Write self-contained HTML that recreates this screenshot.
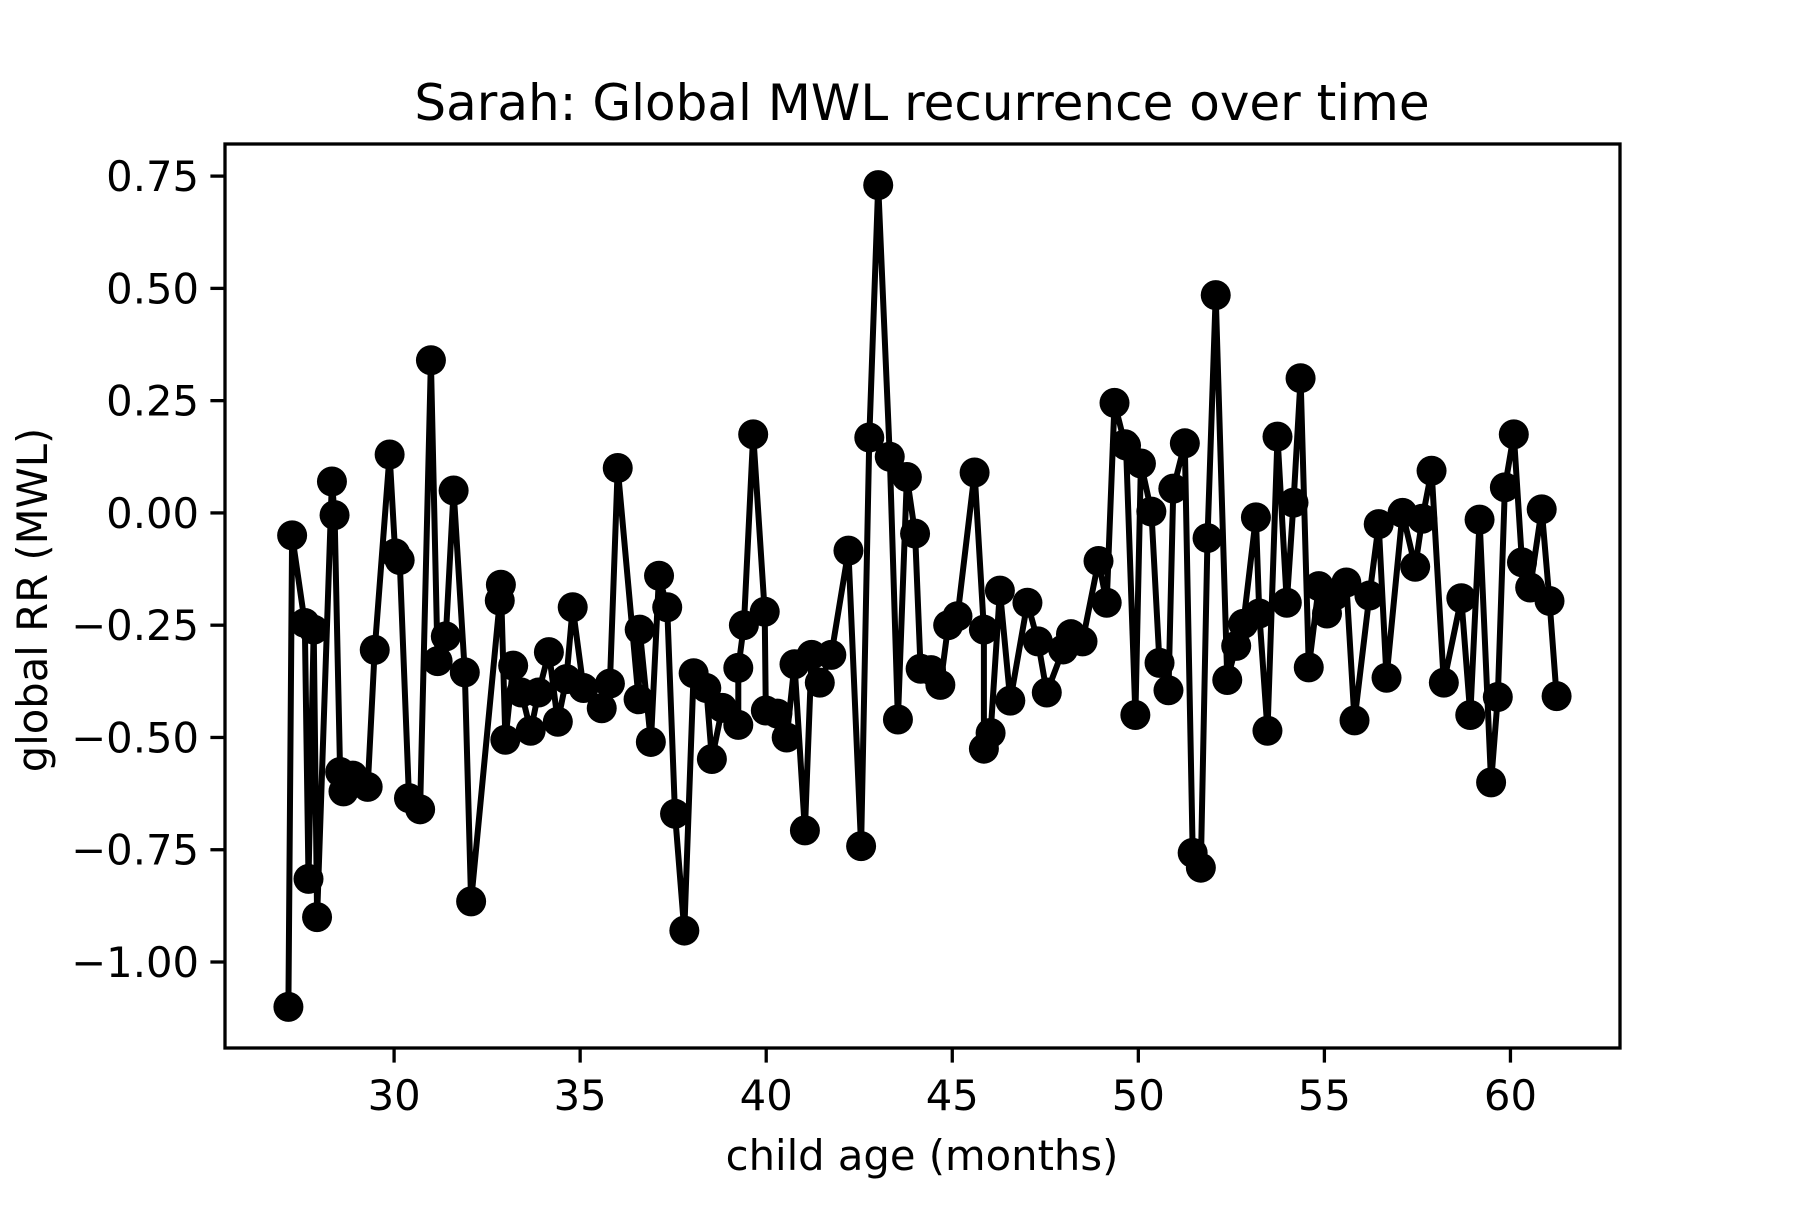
<!DOCTYPE html>
<html><head><meta charset="utf-8"><style>
html,body{margin:0;padding:0;background:#fff;}
svg text{font-family:"DejaVu Sans","Liberation Sans",sans-serif;fill:#000;}
</style></head><body>
<svg id="chart" width="1800" height="1200" viewBox="0 0 1800 1200" xmlns="http://www.w3.org/2000/svg">
<rect width="1800" height="1200" fill="#fff"/>
<text x="922" y="120" font-size="50" text-anchor="middle">Sarah: Global MWL recurrence over time</text>
<text x="922" y="1170" font-size="41.7" text-anchor="middle">child age (months)</text>
<text transform="translate(47,600) rotate(-90)" font-size="41.7" text-anchor="middle">global RR (MWL)</text>
<g id="xticks"></g>
<g id="yticks"></g>
<g id="series"></g>
<rect x="225" y="144" width="1395" height="904" fill="none" stroke="#000" stroke-width="3.3"/>
</svg>
<script>
const ages = [27.16,27.26,27.6,27.7,27.84,27.93,28.33,28.4,28.55,28.64,28.89,29.29,29.48,29.88,30.03,30.15,30.4,30.7,30.99,31.17,31.39,31.6,31.9,32.07,32.84,32.87,32.99,33.2,33.42,33.67,33.88,34.16,34.4,34.63,34.8,35.09,35.58,35.8,36.01,36.57,36.6,36.9,37.12,37.34,37.55,37.8,38.05,38.39,38.54,38.82,39.25,39.25,39.4,39.65,39.96,39.99,40.3,40.55,40.76,41.04,41.22,41.44,41.75,42.21,42.55,42.77,43.01,43.32,43.54,43.78,44.0,44.15,44.43,44.68,44.89,45.14,45.6,45.85,45.85,46.03,46.28,46.56,47.02,47.3,47.54,47.98,48.19,48.5,48.93,49.15,49.36,49.64,49.67,49.92,50.07,50.35,50.57,50.81,50.94,51.25,51.46,51.68,51.86,52.08,52.39,52.63,52.82,53.16,53.25,53.47,53.74,53.99,54.17,54.36,54.58,54.85,55.07,55.28,55.59,55.81,56.21,56.46,56.67,57.1,57.44,57.63,57.88,58.21,58.68,58.92,59.17,59.48,59.66,59.85,60.09,60.31,60.53,60.84,61.05,61.24];
const rrValues = [-1.10,-0.05,-0.245,-0.815,-0.26,-0.90,0.07,-0.005,-0.577,-0.62,-0.585,-0.61,-0.305,0.13,-0.09,-0.105,-0.635,-0.66,0.34,-0.33,-0.275,0.05,-0.355,-0.865,-0.195,-0.16,-0.505,-0.34,-0.40,-0.485,-0.40,-0.31,-0.465,-0.37,-0.21,-0.39,-0.435,-0.38,0.10,-0.415,-0.26,-0.51,-0.14,-0.21,-0.67,-0.93,-0.357,-0.39,-0.548,-0.434,-0.472,-0.345,-0.25,0.175,-0.22,-0.44,-0.447,-0.50,-0.337,-0.707,-0.316,-0.378,-0.316,-0.084,-0.742,0.168,0.73,0.125,-0.46,0.08,-0.046,-0.347,-0.35,-0.383,-0.25,-0.23,0.09,-0.26,-0.525,-0.49,-0.173,-0.418,-0.2,-0.286,-0.40,-0.304,-0.27,-0.286,-0.107,-0.2,0.245,0.153,0.15,-0.45,0.11,0.003,-0.334,-0.395,0.054,0.155,-0.757,-0.79,-0.056,0.485,-0.372,-0.296,-0.247,-0.01,-0.224,-0.485,0.17,-0.2,0.023,0.3,-0.344,-0.163,-0.224,-0.184,-0.155,-0.462,-0.184,-0.025,-0.367,0.0,-0.12,-0.013,0.094,-0.378,-0.19,-0.45,-0.015,-0.6,-0.41,0.057,0.175,-0.11,-0.166,0.008,-0.196,-0.408];
const xTickValues = [30,35,40,45,50,55,60];
const yTickValues = [0.75,0.5,0.25,0,-0.25,-0.5,-0.75,-1.0];
const yTickLabels = ["0.75","0.50","0.25","0.00","\u22120.25","\u22120.50","\u22120.75","\u22121.00"];

const NS="http://www.w3.org/2000/svg";
const L=225,R=1620,T=144,B=1048;
const xmin=Math.min(...ages),xmax=Math.max(...ages),xr=xmax-xmin;
const ymin=Math.min(...rrValues),ymax=Math.max(...rrValues),yr=ymax-ymin;
const x0=xmin-0.05*xr,x1=xmax+0.05*xr,y0=ymin-0.05*yr,y1=ymax+0.05*yr;
const sx=v=>L+(v-x0)/(x1-x0)*(R-L);
const sy=v=>B-(v-y0)/(y1-y0)*(B-T);
function mk(tag,attrs,parent){const e=document.createElementNS(NS,tag);for(const k in attrs)e.setAttribute(k,attrs[k]);parent.appendChild(e);return e;}
const xg=document.getElementById('xticks'),yg=document.getElementById('yticks'),sg=document.getElementById('series');
xTickValues.forEach(v=>{
  const t=mk('line',{x1:sx(v),x2:sx(v),y1:B,y2:B+14.6,stroke:'#000','stroke-width':3.3},xg);
  
  
  const l=mk('text',{x:sx(v),y:B+62,'font-size':41.7,'text-anchor':'middle'},xg);
  l.textContent=String(v);
  
  
});
yTickValues.forEach((v,i)=>{
  const t=mk('line',{x1:L-14.6,x2:L,y1:sy(v),y2:sy(v),stroke:'#000','stroke-width':3.3},yg);
  
  
  const l=mk('text',{x:L-26,y:sy(v)+15,'font-size':41.7,'text-anchor':'end'},yg);
  l.textContent=yTickLabels[i];
  
  
});
const pts=ages.map((a,i)=>sx(a).toFixed(1)+','+sy(rrValues[i]).toFixed(1)).join(' ');
const line=mk('polyline',{points:pts,fill:'none',stroke:'#000','stroke-width':6,'stroke-linejoin':'round'},sg);


ages.forEach((a,i)=>{
  const c=mk('circle',{cx:sx(a),cy:sy(rrValues[i]),r:15,fill:'#000'},sg);
  
  
});
</script>
</body></html>
